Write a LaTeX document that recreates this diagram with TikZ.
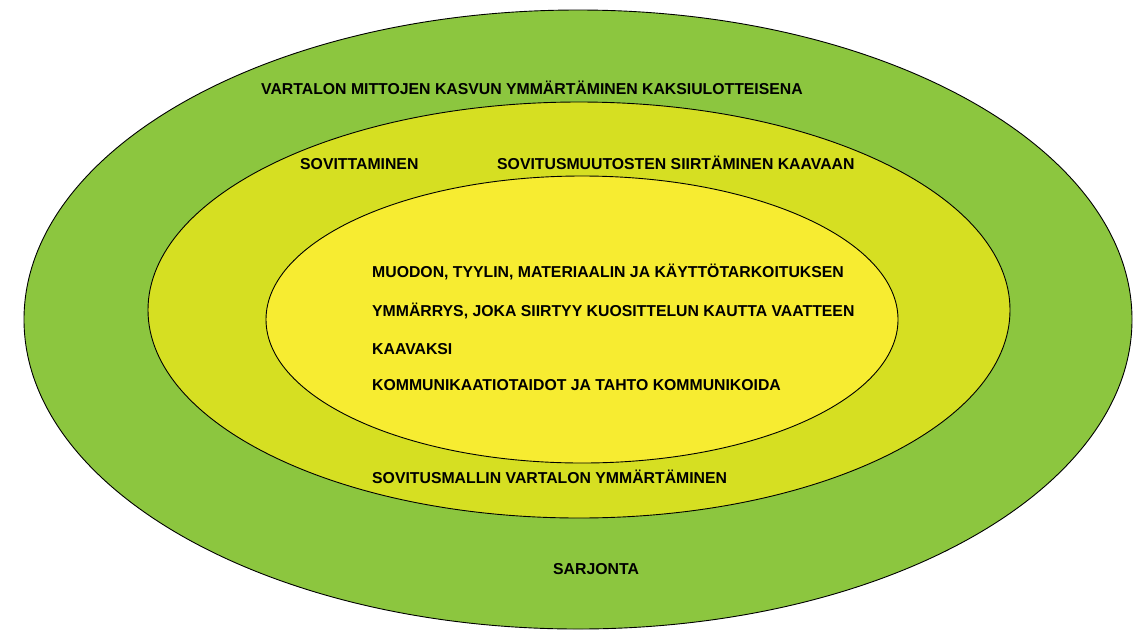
\documentclass[tikz,border=0pt]{standalone}
\usepackage{fontspec}
\setmainfont{Liberation Sans}
\definecolor{outergreen}{HTML}{8CC63F}
\definecolor{midgreen}{HTML}{D6DF22}
\definecolor{inneryellow}{HTML}{F7EC31}
\tikzset{
  ring/.style={draw=black, line width=0.9pt},
  lbl/.style={anchor=base west, inner sep=0pt, font=\fontsize{15.8}{18}\selectfont\bfseries, text=black}
}
\begin{document}
\begin{tikzpicture}[x=1pt,y=-1pt]
\useasboundingbox (0,0) rectangle (1147,630);
\fill[white] (0,0) rectangle (1147,630);
\draw[ring, fill=outergreen] (578,319.5) ellipse [x radius=554, y radius=309.5];
\draw[ring, fill=midgreen] (579,310) ellipse [x radius=431, y radius=208];
\draw[ring, fill=inneryellow] (582,319.5) ellipse [x radius=316, y radius=143.5];
\node[lbl] (t1) at (261,94.5) {VARTALON MITTOJEN KASVUN YMMÄRTÄMINEN KAKSIULOTTEISENA};
\node[lbl] (t2) at (300,169.5) {SOVITTAMINEN};
\node[lbl] (t3) at (497,169.5) {SOVITUSMUUTOSTEN SIIRTÄMINEN KAAVAAN};
\node[lbl] (t4) at (372,277.5) {MUODON, TYYLIN, MATERIAALIN JA KÄYTTÖTARKOITUKSEN};
\node[lbl] (t5) at (372,316.5) {YMMÄRRYS, JOKA SIIRTYY KUOSITTELUN KAUTTA VAATTEEN};
\node[lbl] (t6) at (372,354.5) {KAAVAKSI};
\node[lbl] (t7) at (372,390.5) {KOMMUNIKAATIOTAIDOT JA TAHTO KOMMUNIKOIDA};
\node[lbl] (t8) at (372,483.5) {SOVITUSMALLIN VARTALON YMMÄRTÄMINEN};
\node[lbl] (t9) at (553,574.5) {SARJONTA};
\end{tikzpicture}
\end{document}
